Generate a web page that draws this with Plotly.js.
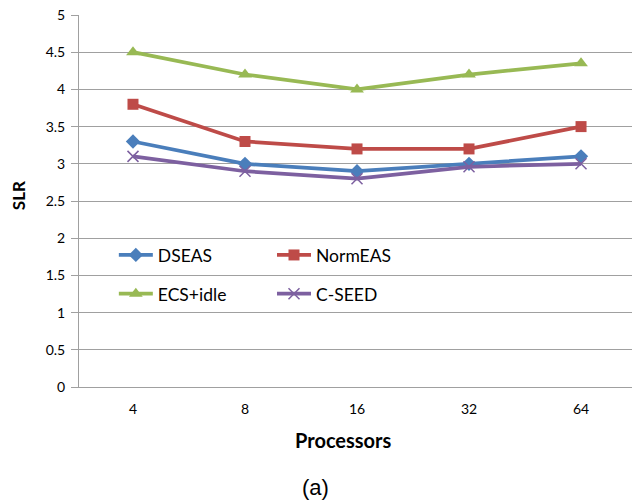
<!DOCTYPE html>
<html><head><meta charset="utf-8">
<script src="https://cdn.plot.ly/plotly-3.0.1.min.js"></script>
<style>html,body{margin:0;padding:0;background:#fff}</style>
</head><body>
<div id="chart" style="width:632px;height:503px"></div>
<script>
const processors = ['4', '8', '16', '32', '64'];
const dseas = [3.3, 3.0, 2.9, 3.0, 3.1];
const normeas = [3.8, 3.3, 3.2, 3.2, 3.5];
const ecsIdle = [4.5, 4.2, 4.0, 4.2, 4.35];
const cseed = [3.1, 2.9, 2.8, 2.96, 3.0];
const yTicks = [0, 0.5, 1, 1.5, 2, 2.5, 3, 3.5, 4, 4.5, 5];

function tr(name, y, color, symbol, size, legend, extra) {
  return Object.assign({
    x: processors, y: y, name: name, type: 'scatter', mode: 'lines+markers',
    line: {color: color, width: 3.75},
    marker: {symbol: symbol, size: size, color: color},
    legend: legend, legendgroup: name
  }, extra || {});
}

const traces = [
  tr('DSEAS', dseas, '#4a7ebb', 'diamond', 11, 'legend'),
  tr('NormEAS', normeas, '#be4b48', 'square', 11, 'legend2'),
  tr('ECS+idle', ecsIdle, '#98b954', 'triangle-up', 12, 'legend'),
  tr('C-SEED', cseed, '#7d60a0', 'x-thin-open', 11, 'legend2',
     {marker: {symbol: 'x-thin-open', size: 11, color: '#7d60a0', line: {color: '#7d60a0', width: 1.5}}})
];

const legendCommon = {
  bgcolor: 'rgba(0,0,0,0)', borderwidth: 0,
  font: {family: 'Lato, sans-serif', size: 17.5, color: '#000'},
  traceorder: 'grouped', tracegroupgap: 13, itemwidth: 34,
  xanchor: 'left', yanchor: 'top', y: 0.403
};

const layout = {
  width: 632, height: 503,
  margin: {l: 79, r: 0, t: 15, b: 116},
  paper_bgcolor: '#fff', plot_bgcolor: '#fff',
  font: {family: 'Lato, sans-serif', color: '#000'},
  showlegend: true,
  xaxis: {
    type: 'category', range: [-0.482, 4.455],
    showgrid: false, zeroline: false,
    showline: true, linecolor: '#a0a0a0', linewidth: 1,
    ticks: '', tickfont: {family: 'Lato, sans-serif', size: 14, color: '#000'},
    ticklabelstandoff: 9
  },
  yaxis: {
    range: [0, 5], tickvals: yTicks, ticktext: yTicks.map(String),
    showgrid: true, gridcolor: '#a0a0a0', gridwidth: 1, zeroline: false,
    showline: true, linecolor: '#a0a0a0', linewidth: 1,
    ticks: 'outside', ticklen: 7, tickcolor: '#a0a0a0',
    tickfont: {family: 'Lato, sans-serif', size: 14, color: '#000'},
    ticklabelstandoff: 3
  },
  legend: Object.assign({}, legendCommon, {x: 0.063}),
  legend2: Object.assign({}, legendCommon, {x: 0.349}),
  annotations: [
    {text: '<b>SLR</b>', xref: 'paper', yref: 'paper', x: -0.11, y: 0.5, xanchor: 'center', yanchor: 'middle',
     textangle: -90, showarrow: false, font: {family: 'Lato, sans-serif', size: 17, color: '#000'}, yshift: 5},
    {text: '<b>Processors</b>', xref: 'paper', yref: 'paper', x: 0.478, y: -0.142, xanchor: 'center', yanchor: 'middle',
     showarrow: false, font: {family: 'Lato, sans-serif', size: 20, color: '#000'}},
    {text: '(a)', xref: 'paper', yref: 'paper', x: 0.427, y: -0.269, xanchor: 'center', yanchor: 'middle',
     showarrow: false, font: {family: 'Liberation Sans, Arial, sans-serif', size: 22, color: '#000'}}
  ]
};

Plotly.newPlot('chart', traces, layout, {displayModeBar: false, staticPlot: true});
</script>
</body></html>
